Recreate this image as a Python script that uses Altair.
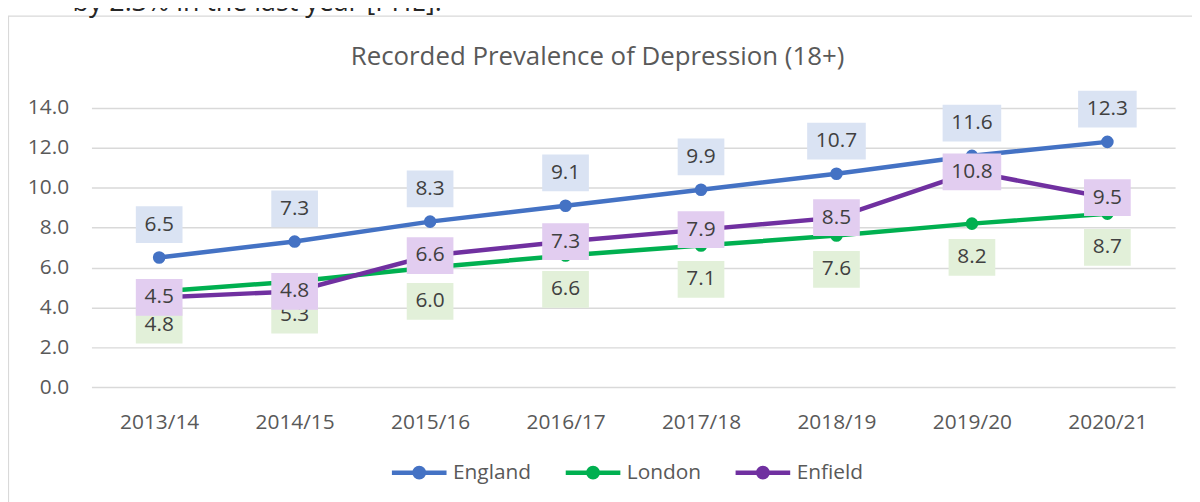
import altair as alt
import pandas as pd

years = ["2013/14", "2014/15", "2015/16", "2016/17", "2017/18", "2018/19", "2019/20", "2020/21"]
england = [6.5, 7.3, 8.3, 9.1, 9.9, 10.7, 11.6, 12.3]
london = [4.8, 5.3, 6.0, 6.6, 7.1, 7.6, 8.2, 8.7]
enfield = [4.5, 4.8, 6.6, 7.3, 7.9, 8.5, 10.8, 9.5]
series_names = ["England", "London", "Enfield"]
y_ticks = [0, 2, 4, 6, 8, 10, 12, 14]
title_text = "Recorded Prevalence of Depression (18+)"
top_text = "by 2.3% in the last year [PHE]."

line_colors = ["#4472C4", "#00B050", "#7030A0"]
box_colors = ["#DAE3F3", "#E2F0D9", "#E2CDF0"]
label_offsets = [-33, 34, 0]

rows = []
for name, vals in zip(series_names, [england, london, enfield]):
    for yr, v in zip(years, vals):
        rows.append({"series": name, "year": yr, "value": v, "label": f"{v:.1f}"})
df = pd.DataFrame(rows)

FONT = "Open Sans"
GREY = "#595959"

x_enc = alt.X(
    "year:N", sort=years,
    scale=alt.Scale(type="point", padding=0.5),
    axis=alt.Axis(title=None, labelAngle=0, domain=False, ticks=False, grid=False,
                  labelFontSize=21, labelColor=GREY, labelFont=FONT, labelPadding=25),
)
y_enc = alt.Y(
    "value:Q",
    scale=alt.Scale(domain=[0, 14], nice=False),
    axis=alt.Axis(title=None, values=y_ticks, format=".1f", domain=False, ticks=False,
                  labelPadding=23, gridColor="#D9D9D9", gridWidth=1.5,
                  labelFontSize=21, labelColor=GREY, labelFont=FONT),
)


def circ(r):
    return f"M-{r},0A{r},{r},0,1,1,{r},0A{r},{r},0,1,1,-{r},0"


# line with a solid dot drawn from concentric stroked circles
sym_path = "M-1,0H1" + circ(0.1727) + circ(0.0909) + circ(0.0218)

color_enc = alt.Color(
    "series:N",
    scale=alt.Scale(domain=series_names, range=line_colors),
    sort=series_names,
    legend=alt.Legend(
        title=None, orient="none", legendX=300, legendY=337, direction="horizontal",
        symbolType=sym_path, symbolSize=3025, symbolStrokeWidth=4.5,
        labelFontSize=21, labelColor=GREY, labelFont=FONT, labelOffset=4,
        columnPadding=25, padding=0,
    ),
)

base = alt.Chart(df)
layers = []

frame = alt.Chart(pd.DataFrame({"a": [0]})).mark_rect(
    fillOpacity=0, stroke="#D9D9D9", strokeWidth=1.2
).encode(x=alt.value(-83.5), x2=alt.value(1300), y=alt.value(-92.5), y2=alt.value(700))
layers.append(frame)
toptxt = alt.Chart(pd.DataFrame({"t": [top_text]})).mark_text(
    align="left", baseline="alphabetic", fontSize=27, font=FONT, color="#262626"
).encode(text="t:N", x=alt.value(-19), y=alt.value(-98))
layers.append(toptxt)
title = alt.Chart(pd.DataFrame({"t": [title_text]})).mark_text(
    align="center", baseline="alphabetic", fontSize=26, font=FONT, color=GREY
).encode(text="t:N", x=alt.value(509.5), y=alt.value(-43))
layers.append(title)

for name in series_names:
    sub = base.transform_filter(alt.datum.series == name)
    layers.append(sub.mark_line(strokeWidth=4.5).encode(x=x_enc, y=y_enc, color=color_enc))
    layers.append(sub.mark_circle(size=160, opacity=1).encode(x=x_enc, y=y_enc, color=color_enc))

short_box = "M-1,-0.787H1V0.787H-1Z"
long_box = "M-1,-0.627H1V0.627H-1Z"
for name, bc, off in zip(series_names, box_colors, label_offsets):
    sub = base.transform_filter(alt.datum.series == name)
    layers.append(
        sub.transform_filter(alt.datum.value < 10).mark_point(
            shape=short_box, size=47 * 47, filled=True, color=bc, opacity=1,
            strokeWidth=0, yOffset=off
        ).encode(x=x_enc, y=y_enc)
    )
    layers.append(
        sub.transform_filter(alt.datum.value >= 10).mark_point(
            shape=long_box, size=59 * 59, filled=True, color=bc, opacity=1,
            strokeWidth=0, yOffset=off
        ).encode(x=x_enc, y=y_enc)
    )
    layers.append(
        sub.mark_text(fontSize=21, font=FONT, color="#404040", baseline="middle",
                      yOffset=off).encode(x=x_enc, y=y_enc, text="label:N")
    )

chart = alt.layer(*layers).properties(
    width=1091, height=281,
    padding={"left": 84, "top": 99, "right": 17, "bottom": 114},
    autosize=alt.AutoSizeParams(type="none"),
    background="white",
).configure_view(stroke=None)

chart.save("out.html", embed_options={"renderer": "svg", "actions": False})
